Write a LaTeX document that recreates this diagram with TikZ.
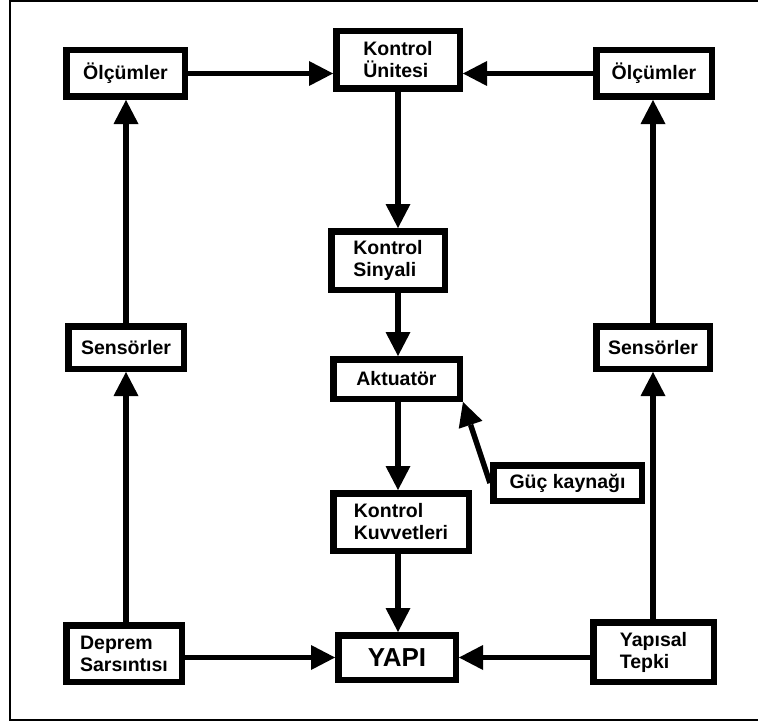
\documentclass[tikz,border=0pt]{standalone}
\usepackage{fontspec}
\setmainfont{Liberation Sans}
\usetikzlibrary{positioning, arrows.meta}

\tikzset{
  blok/.style={draw, line width=6.5pt, inner sep=0pt, align=left,
    font=\bfseries\fontsize{19.5}{22}\selectfont},
  ok/.style={line width=5.5pt, -{Triangle[length=24pt, width=25pt, line width=0pt]}}
}

\begin{document}
\begin{tikzpicture}[x=1pt, y=-1pt]
    \useasboundingbox (0,0) rectangle (758,725);
    \draw[line width=1.8pt] (758,1) -- (10,1) -- (10,720) -- (758,720);

    \node[blok, minimum width=118.5, minimum height=46.5] (olcL) at (125.5,73.5) {Ölçümler};
    \node[blok, minimum width=123.5, minimum height=57.5] (kontrolU) at (398,60) {Kontrol\\Ünitesi};
    \node[blok, minimum width=115.5, minimum height=46.5] (olcR) at (654,73.5) {Ölçümler};
    \node[blok, minimum width=113.5, minimum height=58.5] (sinyal) at (388,260.5) {Kontrol\\Sinyali};
    \node[blok, minimum width=126.5, minimum height=39.5] (akt) at (396.5,379) {Aktuatör};
    \node[blok, minimum width=148.5, minimum height=35.5] (guc) at (567.5,483) {Güç kaynağı};
    \node[blok, minimum width=135.5, minimum height=57.5] (kuvvet) at (401,522) {Kontrol\\Kuvvetleri};
    \node[blok, minimum width=115.5, minimum height=42.5] (sensL) at (126,347.5) {Sensörler};
    \node[blok, minimum width=113.5, minimum height=42.5] (sensR) at (653,347.5) {Sensörler};
    \node[blok, minimum width=115.5, minimum height=56.5] (deprem) at (124,653.5) {Deprem\\Sarsıntısı};
    \node[blok, minimum width=117.5, minimum height=44.5,
      font=\bfseries\fontsize{26}{30}\selectfont] (yapi) at (397,657.5) {YAPI};
    \node[blok, minimum width=120.5, minimum height=59.5] (tepki) at (653.5,652) {Yapısal\\Tepki};

    \draw[ok] (olcL.east) -- (olcL.east -| kontrolU.west);
    \draw[ok] (olcR.west) -- (olcR.west -| kontrolU.east);
    \draw[ok] (kontrolU.south) -- (kontrolU.south |- sinyal.north);
    \draw[ok] (sinyal.south -| kontrolU) -- (kontrolU |- akt.north);
    \draw[ok] (akt.south -| kontrolU) -- (kontrolU |- kuvvet.north);
    \draw[ok] (kuvvet.south -| kontrolU) -- (kontrolU |- yapi.north);
    \draw[ok] (guc.west) -- (akt.south east);
    \draw[ok] (sensL.north) -- (sensL.north |- olcL.south);
    \draw[ok] (deprem.north -| sensL) -- (sensL.south);
    \draw[ok] (sensR.north) -- (sensR.north |- olcR.south);
    \draw[ok] (tepki.north -| sensR) -- (sensR.south);
    \draw[ok] (deprem.east |- yapi) -- (yapi.west);
    \draw[ok] (tepki.west |- yapi) -- (yapi.east);
  \end{tikzpicture}
\end{document}
